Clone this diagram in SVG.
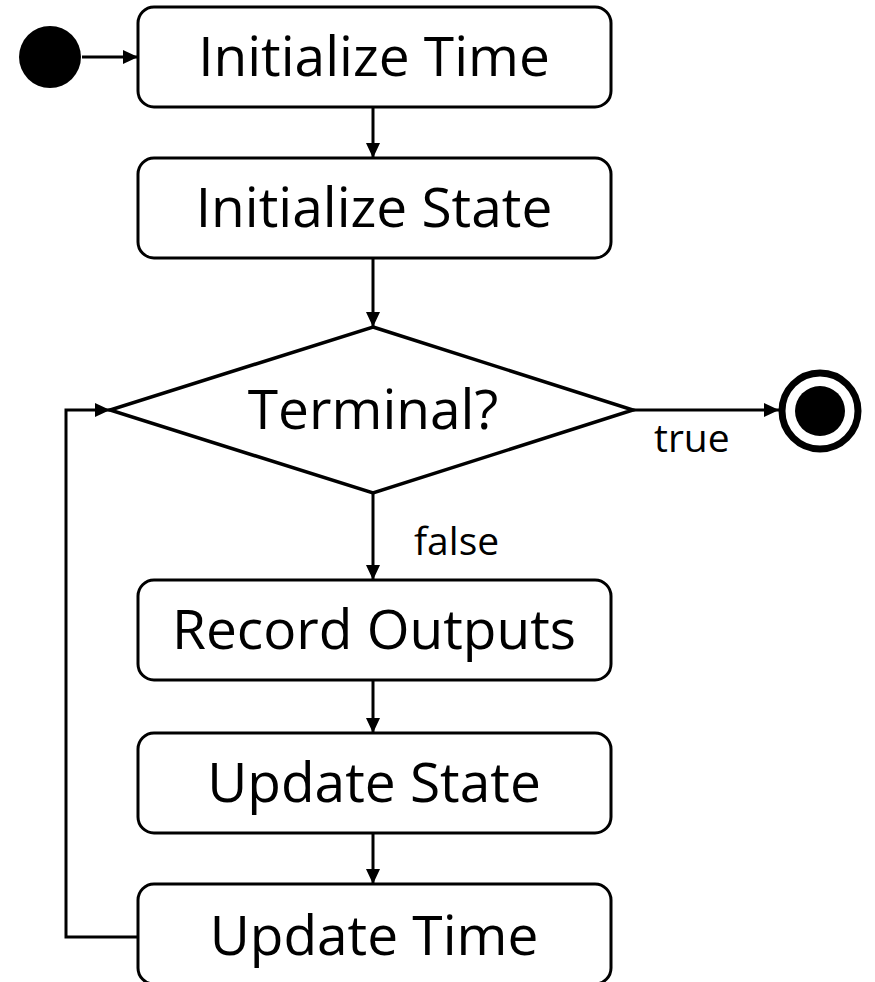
<svg xmlns="http://www.w3.org/2000/svg" width="875" height="982" viewBox="0 0 875 982">
  <style>
    .box { fill: #fff; stroke: #000; stroke-width: 3; }
    .lbl { font-family: "Open Sans", "Noto Sans", sans-serif; font-size: 55px; fill: #000; text-anchor: middle; }
    .small { font-family: "Open Sans", "Noto Sans", sans-serif; font-size: 39px; fill: #000; }
    .edge { fill: none; stroke: #000; stroke-width: 3; marker-end: url(#arrow); }
  </style>
  <defs>
    <marker id="arrow" markerUnits="userSpaceOnUse" markerWidth="16" markerHeight="16" viewBox="0 0 16 16" refX="15" refY="8" orient="auto">
      <path d="M0,1 L15,8 L0,15 z" fill="#000"/>
    </marker>
  </defs>

  <rect width="875" height="982" fill="#fff"/>

  <!-- connectors -->
  <g id="connectors">
    <line class="edge" x1="82" y1="57" x2="138" y2="57"/>
    <line class="edge" x1="373" y1="107" x2="373" y2="158"/>
    <line class="edge" x1="373" y1="258" x2="373" y2="327"/>
    <line class="edge" x1="633" y1="410" x2="779" y2="410"/>
    <line class="edge" x1="373" y1="493" x2="373" y2="580"/>
    <line class="edge" x1="373" y1="680" x2="373" y2="733"/>
    <line class="edge" x1="373" y1="833" x2="373" y2="884"/>
    <polyline class="edge" points="138,937 66,937 66,410 110,410"/>
    <text class="small" x="654" y="452">true</text>
    <text class="small" x="414" y="555">false</text>
  </g>

  <!-- start -->
  <g id="start">
    <circle cx="50" cy="57" r="31" fill="#000"/>
  </g>

  <g id="init-time">
    <rect class="box" x="138" y="7" width="473" height="100" rx="16"/>
    <text class="lbl" x="374" y="76">Initialize Time</text>
  </g>

  <g id="init-state">
    <rect class="box" x="138" y="158" width="473" height="100" rx="16"/>
    <text class="lbl" x="374" y="227">Initialize State</text>
  </g>

  <g id="terminal">
    <polygon points="373,327 633,410 373,493 110,410" fill="#fff" stroke="#000" stroke-width="3.5" stroke-linejoin="miter"/>
    <text class="lbl" x="373" y="429">Terminal?</text>
  </g>

  <g id="end">
    <circle cx="820" cy="411" r="38" fill="#fff" stroke="#000" stroke-width="7"/>
    <circle cx="820" cy="411" r="25" fill="#000"/>
  </g>

  <g id="record-outputs">
    <rect class="box" x="138" y="580" width="473" height="100" rx="16"/>
    <text class="lbl" x="374" y="649">Record Outputs</text>
  </g>

  <g id="update-state">
    <rect class="box" x="138" y="733" width="473" height="100" rx="16"/>
    <text class="lbl" x="374" y="802">Update State</text>
  </g>

  <g id="update-time">
    <rect class="box" x="138" y="884" width="473" height="100" rx="16"/>
    <text class="lbl" x="374" y="955">Update Time</text>
  </g>
</svg>
